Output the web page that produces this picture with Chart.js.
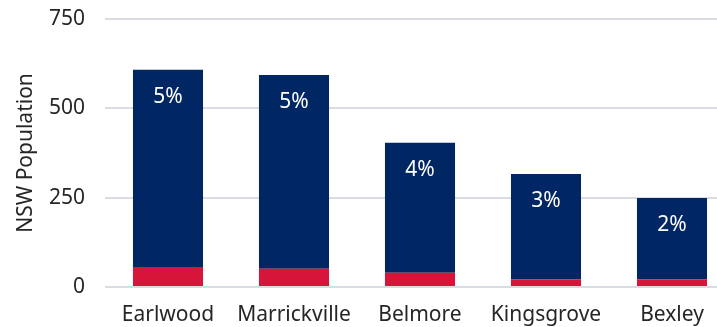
<!DOCTYPE html>
<html>
<head>
<meta charset="utf-8">
<script src="https://cdn.jsdelivr.net/npm/chart.js@4"></script>
<style>
    html, body { margin: 0; padding: 0; overflow: hidden; background: #fff; }
    #wrap { width: 735px; height: 327px; }
</style>
</head>
<body>
<div id="wrap"><canvas id="popChart" width="735" height="327"></canvas></div>
<script>
const suburbs = ["Earlwood", "Marrickville", "Belmore", "Kingsgrove", "Bexley"];
const redValues = [56, 51, 40, 22, 22];
const navyValues = [552, 542, 364, 294, 227];
const shareLabels = ["5%", "5%", "4%", "3%", "2%"];
const yTicks = [0, 250, 500, 750];

const fontFamily = "'Noto Sans', 'Liberation Sans', Arial, sans-serif";

// draw the % labels just under the top of each navy bar
const shareLabelPlugin = {
    id: "shareLabels",
    afterDatasetsDraw(chart) {
        const ctx = chart.ctx;
        const meta = chart.getDatasetMeta(1);
        ctx.save();
        ctx.fillStyle = "#ffffff";
        ctx.font = "21px " + fontFamily;
        ctx.textAlign = "center";
        ctx.textBaseline = "middle";
        meta.data.forEach((bar, i) => {
            ctx.fillText(shareLabels[i], bar.x, bar.y + 27);
        });
        ctx.restore();
    }
};

new Chart(document.getElementById("popChart").getContext("2d"), {
    type: "bar",
    data: {
        labels: suburbs,
        datasets: [
            {
                label: "Red",
                data: redValues,
                backgroundColor: "#d7153a",
                barPercentage: 0.556,
                categoryPercentage: 1
            },
            {
                label: "Navy",
                data: navyValues,
                backgroundColor: "#002664",
                barPercentage: 0.556,
                categoryPercentage: 1
            }
        ]
    },
    options: {
        responsive: false,
        animation: false,
        layout: { padding: { top: 19, left: 10, right: 0, bottom: 0 } },
        plugins: {
            legend: { display: false },
            tooltip: { enabled: false }
        },
        scales: {
            x: {
                stacked: true,
                grid: { display: false, drawTicks: false },
                border: { display: false },
                afterFit: (axis) => { axis.height = 40; },
                ticks: {
                    color: "#262626",
                    font: { family: fontFamily, size: 21 },
                    padding: 15,
                    maxRotation: 0
                }
            },
            y: {
                stacked: true,
                min: 0,
                max: 750,
                afterBuildTicks: (axis) => {
                    axis.ticks = yTicks.map(v => ({ value: v }));
                },
                afterFit: (axis) => {
                    axis.width = 95;
                    axis.paddingTop = 0;
                    axis.paddingBottom = 0;
                },
                grid: { color: "#d9dde3", lineWidth: 2, drawTicks: false },
                border: { display: false },
                ticks: {
                    color: "#262626",
                    font: { family: fontFamily, size: 21 },
                    padding: 20
                },
                title: {
                    display: true,
                    text: "NSW Population",
                    color: "#262626",
                    font: { family: fontFamily, size: 21 },
                    padding: { top: 3, bottom: 12 }
                }
            }
        }
    },
    plugins: [shareLabelPlugin]
});
</script>
</body>
</html>
